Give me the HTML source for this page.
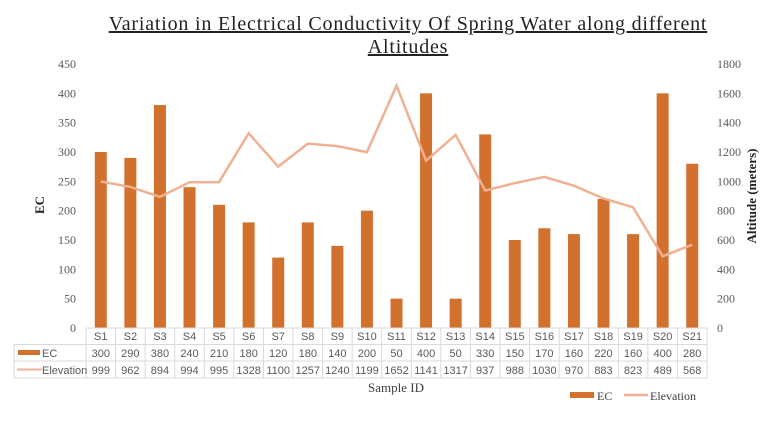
<!DOCTYPE html>
<html><head><meta charset="utf-8"><style>
body{margin:0;background:#fff;width:768px;height:421px;overflow:hidden}
svg{font-family:"Liberation Serif",serif}
.t{font-family:"Liberation Sans",sans-serif;font-size:11px;fill:#595959}
</style></head><body>
<svg id="c" width="768" height="421">
<text x="408" y="30" text-anchor="middle" font-size="20" fill="#222" text-decoration="underline" letter-spacing="0.8">Variation in Electrical Conductivity Of Spring Water along different</text>
<text x="408" y="53" text-anchor="middle" font-size="20" fill="#222" text-decoration="underline" letter-spacing="0.8">Altitudes</text>
<text transform="translate(44,205) rotate(-90)" text-anchor="middle" font-size="13" font-weight="bold" fill="#222">EC</text>
<text transform="translate(756,196) rotate(-90)" text-anchor="middle" font-size="13" font-weight="bold" fill="#222">Altitude (meters)</text>
<text x="396" y="392" text-anchor="middle" font-size="13" fill="#404040">Sample ID</text>
<g>
<rect x="570" y="392" width="24" height="6" fill="#d2702d"/>
<text x="597" y="400" font-size="12" fill="#404040">EC</text>
<line x1="624" y1="395" x2="648" y2="395" stroke="#f0b092" stroke-width="2.5"/>
<text x="650" y="400" font-size="12" fill="#404040">Elevation</text>
</g>
</svg>
<script>
const categories=["S1","S2","S3","S4","S5","S6","S7","S8","S9","S10","S11","S12","S13","S14","S15","S16","S17","S18","S19","S20","S21"];
const ecValues=[300,290,380,240,210,180,120,180,140,200,50,400,50,330,150,170,160,220,160,400,280];
const elevValues=[999,962,894,994,995,1328,1100,1257,1240,1199,1652,1141,1317,937,988,1030,970,883,823,489,568];
const leftTicks=[0,50,100,150,200,250,300,350,400,450];
const rightTicks=[0,200,400,600,800,1000,1200,1400,1600,1800];
const svg=document.getElementById('c');const NS='http://www.w3.org/2000/svg';
const X0=86,X1=707,Y0=328,Y1=64;const cw=(X1-X0)/categories.length;
const xc=i=>X0+cw*(i+0.5);const yL=v=>Y0-(v/450)*(Y0-Y1);const yR=v=>Y0-(v/1800)*(Y0-Y1);
function mk(t,a){const e=document.createElementNS(NS,t);for(const k in a)e.setAttribute(k,a[k]);svg.appendChild(e);return e;}
leftTicks.forEach(v=>{const e=mk('text',{x:76,y:yL(v)+4,'text-anchor':'end','font-size':12,fill:'#595959'});e.textContent=v;

});
rightTicks.forEach(v=>{const e=mk('text',{x:717,y:yR(v)+4,'font-size':12,fill:'#595959'});e.textContent=v;

});
ecValues.forEach((v,i)=>{const e=mk('rect',{x:xc(i)-6,y:yL(v),width:12,height:Y0-yL(v),fill:'#d2702d'});

});
const pl=mk('polyline',{points:elevValues.map((v,i)=>xc(i)+','+yR(v)).join(' '),fill:'none',stroke:'#f0b092','stroke-width':2.5});


const g='#d9d9d9';
const rows=[Y0,344.5,361,378];
rows.forEach((y,k)=>{const l=mk('line',{x1:k==0?X0:14,y1:y,x2:X1,y2:y,stroke:g});});
for(let i=0;i<=categories.length;i++){const l=mk('line',{x1:X0+cw*i,y1:Y0,x2:X0+cw*i,y2:378,stroke:g});}
const lb=mk('line',{x1:14,y1:344.5,x2:14,y2:378,stroke:g});
categories.forEach((c,i)=>{
const a=mk('text',{x:xc(i),y:340,'text-anchor':'middle',class:'t'});a.textContent=c;


const b=mk('text',{x:xc(i),y:357,'text-anchor':'middle',class:'t'});b.textContent=ecValues[i];


const d=mk('text',{x:xc(i),y:374,'text-anchor':'middle',class:'t'});d.textContent=elevValues[i];

});
const s1=mk('rect',{x:18,y:350,width:22,height:5,fill:'#d2702d'});
const t1=mk('text',{x:42,y:357,class:'t'});t1.textContent='EC';
const s2=mk('line',{x1:17,y1:369.5,x2:42,y2:369.5,stroke:'#f0b092','stroke-width':2});
const t2=mk('text',{x:42,y:374,class:'t'});t2.textContent='Elevation';
</script>
</body></html>
